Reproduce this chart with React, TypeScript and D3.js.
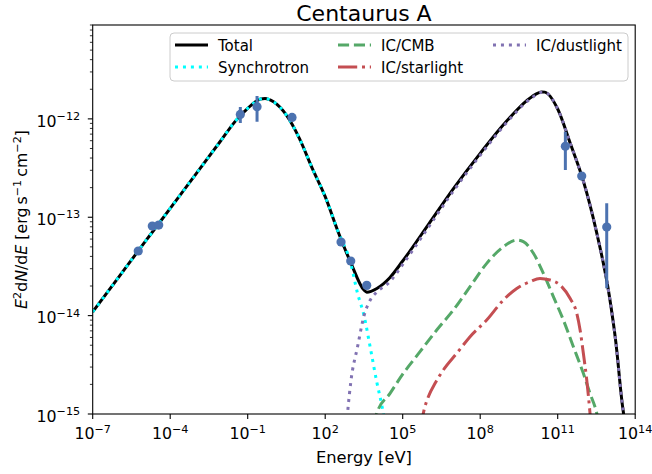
import React from "react";
import * as d3 from "d3";

// figure size + axes box (pixels)
const W = 652, H = 474;
const left = 92.7, right = 635.2, top = 25, bottom = 414;

const xLimits = [1e-7, 1e14];
const yLimits = [1e-15, 9e-12];
const xTickPowers = [-7, -4, -1, 2, 5, 8, 11, 14];
const yTickPowers = [-15, -14, -13, -12];

// measured fluxes (with error bars)
const obsEnergy = [5.8e-6, 2.03e-5, 3.59e-5, 0.0518, 0.23, 5.2, 410, 973, 4055, 1.98e11, 8.5e11, 7.9e12];
const obsFlux = [4.54e-14, 8.14e-14, 8.33e-14, 1.11e-12, 1.33e-12, 1.035e-12, 5.6e-14, 3.59e-14, 2.03e-14, 5.26e-13, 2.62e-13, 7.94e-14];
const obsLow = [4.4e-14, 7.9e-14, 8.1e-14, 9.06e-13, 9.35e-13, 9.7e-13, 5.45e-14, 3.5e-14, 1.98e-14, 3.02e-13, 2.55e-13, 1.9e-14];
const obsHigh = [4.7e-14, 8.4e-14, 8.6e-14, 1.32e-12, 1.71e-12, 1.1e-12, 5.75e-14, 3.7e-14, 2.08e-14, 7.4e-13, 2.7e-13, 1.39e-13];

// model curves
const totalE = [1e-7, 1e-6, 1e-5, 1e-4, 1e-3, 1e-2, 3.16e-2, 1e-1, 0.316, 0.468, 1, 3.16, 10, 31.6, 100, 316, 1e3, 3.16e3, 4.07e3, 1e4, 3.16e4, 1e5, 1e6, 1e7, 1e8, 1e9, 1e10, 2.4e10, 3.16e10, 1e11, 3.16e11, 1e12, 3.16e12, 1e13, 1.78e13, 3.16e13, 3.55e13, 4.47e13];
const totalF = [1.09e-14, 2.45e-14, 5.51e-14, 1.23e-13, 2.76e-13, 6.21e-13, 9.33e-13, 1.28e-12, 1.59e-12, 1.61e-12, 1.49e-12, 1.09e-12, 6.34e-13, 3.14e-13, 1.62e-13, 7.13e-14, 3.4e-14, 1.82e-14, 1.73e-14, 1.89e-14, 2.43e-14, 3.59e-14, 8.47e-14, 2.01e-13, 4.46e-13, 9.35e-13, 1.68e-12, 1.88e-12, 1.87e-12, 1.26e-12, 5.51e-13, 2.3e-13, 7.13e-14, 1.58e-14, 5.37e-15, 1.26e-15, 1.0e-15, 5.0e-16];

const synchE = [1e-7, 1e-6, 1e-5, 1e-4, 1e-3, 1e-2, 3.16e-2, 1e-1, 0.316, 0.468, 1, 3.16, 10, 31.6, 100, 316, 1e3, 1.78e3, 3.16e3, 5.62e3, 1e4, 1.58e4, 2.24e4];
const synchF = [1.09e-14, 2.45e-14, 5.51e-14, 1.23e-13, 2.76e-13, 6.21e-13, 9.33e-13, 1.28e-12, 1.59e-12, 1.61e-12, 1.49e-12, 1.09e-12, 6.34e-13, 3.14e-13, 1.62e-13, 7.13e-14, 3.31e-14, 1.69e-14, 1.01e-14, 4.66e-15, 2.09e-15, 1.2e-15, 7.1e-16];

const cmbE = [7.94e3, 1e4, 3.24e4, 1.06e5, 4.68e5, 2.08e6, 9.12e6, 4.05e7, 1.79e8, 7.87e8, 2.6e9, 4.68e9, 1.15e10, 2.79e10, 6.79e10, 1.66e11, 4.04e11, 9.84e11, 1.78e12, 3.24e12, 3.98e12];
const cmbF = [7.9e-16, 1.02e-15, 1.62e-15, 2.59e-15, 4.3e-15, 7.14e-15, 1.14e-14, 1.97e-14, 3.4e-14, 5.01e-14, 5.86e-14, 5.64e-14, 4.3e-14, 2.69e-14, 1.56e-14, 9.02e-15, 4.83e-15, 2.59e-15, 1.62e-15, 1.02e-15, 7.9e-16];

const starE = [5.01e5, 6.31e5, 9.84e5, 1.79e6, 3.74e6, 1.24e7, 4.05e7, 1.79e8, 7.87e8, 2.6e9, 8.51e9, 2.07e10, 5.01e10, 1.23e11, 3.0e11, 5.5e11, 7.36e11, 9.84e11, 1.33e12, 1.78e12, 2.0e12];
const starF = [7.1e-16, 1.02e-15, 1.5e-15, 2.05e-15, 2.8e-15, 4.14e-15, 6.11e-15, 9.02e-15, 1.44e-14, 1.89e-14, 2.21e-14, 2.39e-14, 2.3e-14, 2.05e-14, 1.5e-14, 1.05e-14, 7.14e-15, 4.14e-15, 2.22e-15, 1.02e-15, 7.1e-16];

const dustE = [631, 741, 1e3, 1.78e3, 3.16e3, 5.62e3, 1e4, 3.16e4, 1e5, 1e6, 1e7, 1e8, 1e9, 1e10, 2.4e10, 3.16e10, 1e11, 3.16e11, 1e12, 3.16e12, 1e13, 1.78e13, 3.16e13, 3.55e13, 4.47e13];
const dustF = [6.3e-16, 1.05e-15, 2.21e-15, 4.79e-15, 9.91e-15, 1.45e-14, 1.74e-14, 2.21e-14, 3.31e-14, 7.94e-14, 1.91e-13, 4.27e-13, 9.02e-13, 1.64e-12, 1.86e-12, 1.86e-12, 1.26e-12, 5.51e-13, 2.3e-13, 7.13e-14, 1.58e-14, 5.37e-15, 1.26e-15, 1.0e-15, 5.0e-16];

const LW = 3;
const series = [
  { name: "Total", E: totalE, F: totalF, color: "#000000", dash: "" },
  { name: "Synchrotron", E: synchE, F: synchF, color: "#00ffff", dash: `${LW} ${1.65 * LW}` },
  { name: "IC/CMB", E: cmbE, F: cmbF, color: "#55a868", dash: `${3.7 * LW} ${1.6 * LW}` },
  { name: "IC/starlight", E: starE, F: starF, color: "#c44e52", dash: `${6.4 * LW} ${1.6 * LW} ${LW} ${1.6 * LW}` },
  { name: "IC/dustlight", E: dustE, F: dustF, color: "#8172b2", dash: `${LW} ${1.65 * LW}` },
];

const font = "DejaVu Sans, sans-serif";
const tickSize = 15.8;

function Pow10({ p, x, y, anchor }: { p: number; x: number; y: number; anchor: string }) {
  const exp = p < 0 ? "\u2212" + Math.abs(p) : String(p);
  return (
    <text x={x} y={y} textAnchor={anchor} fontSize={tickSize} fontFamily={font} fill="#000">
      10<tspan dy={-6.6} fontSize={tickSize * 0.71}>{exp}</tspan>
    </text>
  );
}

export default function App() {
  const x = d3.scaleLog().domain(xLimits).range([left, right]);
  const y = d3.scaleLog().domain(yLimits).range([bottom, top]);

  const line = d3
    .line<[number, number]>()
    .x((d) => x(d[0]))
    .y((d) => y(d[1]))
    .curve(d3.curveMonotoneX);

  const yMinor: number[] = [];
  yTickPowers.forEach((p) => {
    for (let k = 2; k <= 9; k++) {
      const v = k * Math.pow(10, p);
      if (v <= yLimits[1] * 1.0001) yMinor.push(v);
    }
  });

  // legend layout
  const legX = 170, legY = 33, legW = 458, legH = 48;
  const cols = [175, 338, 493];
  const rows = [45, 67];
  const legendSlots = [
    [0, 0], [0, 1], [1, 0], [1, 1], [2, 0],
  ];

  return (
    <svg width={W} height={H} style={{ display: "block", position: "absolute", left: 0, top: 0 }}>
      <rect width={W} height={H} fill="#fff" />
      <defs>
        <clipPath id="plotArea">
          <rect x={left} y={top} width={right - left} height={bottom - top} />
        </clipPath>
      </defs>

      <g clipPath="url(#plotArea)">
        {series.map((s) => (
          <path
            key={s.name}
            d={line(s.E.map((e, i) => [e, s.F[i]] as [number, number])) || ""}
            fill="none"
            stroke={s.color}
            strokeWidth={LW}
            strokeDasharray={s.dash || undefined}
          />
        ))}
        {obsEnergy.map((e, i) => (
          <g key={i}>
            <line x1={x(e)} x2={x(e)} y1={y(obsLow[i])} y2={y(obsHigh[i])} stroke="#4c72b0" strokeWidth={LW} />
            <circle cx={x(e)} cy={y(obsFlux[i])} r={4.6} fill="#4c72b0" />
          </g>
        ))}
      </g>

      {/* spines */}
      <rect x={left} y={top} width={right - left} height={bottom - top} fill="none" stroke="#000" strokeWidth={1.1} />

      {/* x ticks */}
      {xTickPowers.map((p) => {
        const px = x(Math.pow(10, p));
        return (
          <g key={p}>
            <line x1={px} x2={px} y1={bottom} y2={bottom + 4.9} stroke="#000" strokeWidth={1.1} />
            <Pow10 p={p} x={px} y={bottom + 25.3} anchor="middle" />
          </g>
        );
      })}

      {/* y ticks */}
      {yTickPowers.map((p) => {
        const py = y(Math.pow(10, p));
        return (
          <g key={p}>
            <line x1={left - 4.9} x2={left} y1={py} y2={py} stroke="#000" strokeWidth={1.1} />
            <Pow10 p={p} x={left - 12.5} y={py + 7.7} anchor="end" />
          </g>
        );
      })}
      {yMinor.map((v, i) => (
        <line key={i} x1={left - 2.8} x2={left} y1={y(v)} y2={y(v)} stroke="#000" strokeWidth={0.8} />
      ))}

      {/* title and labels */}
      <text x={(left + right) / 2} y={21} textAnchor="middle" fontSize={22} fontFamily={font}>
        Centaurus A
      </text>
      <text x={(left + right) / 2} y={463} textAnchor="middle" fontSize={16.3} fontFamily={font}>
        Energy [eV]
      </text>
      <text
        transform={`translate(27, ${(top + bottom) / 2}) rotate(-90)`}
        textAnchor="middle"
        fontSize={15.8}
        fontFamily={font}
      >
        <tspan fontStyle="italic">E</tspan>
        <tspan dy={-6.4} fontSize={11.2}>2</tspan>
        <tspan dy={6.4}>d</tspan>
        <tspan fontStyle="italic">N</tspan>
        <tspan>/d</tspan>
        <tspan fontStyle="italic">E</tspan>
        <tspan> [erg</tspan>
        <tspan dx={3}>s</tspan>
        <tspan dy={-6.4} fontSize={11.2}>{"\u22121"}</tspan>
        <tspan dy={6.4} dx={3}>cm</tspan>
        <tspan dy={-6.4} fontSize={11.2}>{"\u22122"}</tspan>
        <tspan dy={6.4}>]</tspan>
      </text>

      {/* legend */}
      <rect x={legX} y={legY} width={legW} height={legH} rx={4} fill="#fff" fillOpacity={0.8} stroke="#cccccc" strokeWidth={1} />
      {series.map((s, i) => {
        const [c, r] = legendSlots[i];
        const lx = cols[c];
        const ly = rows[r];
        return (
          <g key={s.name}>
            <line x1={lx} x2={lx + 33} y1={ly} y2={ly} stroke={s.color} strokeWidth={LW} strokeDasharray={s.dash || undefined} />
            <text x={lx + 43} y={ly + 5.5} fontSize={15} fontFamily={font}>
              {s.name}
            </text>
          </g>
        );
      })}
    </svg>
  );
}
